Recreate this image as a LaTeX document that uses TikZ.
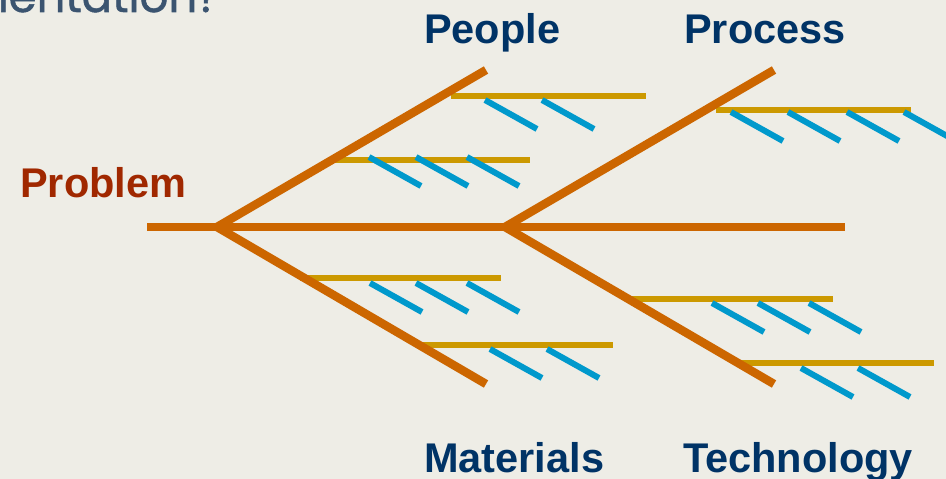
\documentclass[tikz,border=0pt]{standalone}
\usepackage{fontspec}
\setmainfont{Liberation Sans}
\newfontfamily\titlefont[FakeBold=1.2]{Poppins}
\definecolor{bg}{HTML}{EEEDE6}
\definecolor{bone}{HTML}{CC6600}
\definecolor{bar}{HTML}{CC9900}
\definecolor{tick}{HTML}{0099CC}
\definecolor{navy}{HTML}{003366}
\definecolor{probred}{HTML}{A02800}
\definecolor{titleblue}{HTML}{3B5470}
\tikzset{
  bonestyle/.style={draw=bone, line width=8.5pt, line cap=butt},
  barstyle/.style={draw=bar, line width=6.5pt, line cap=butt},
  tickstyle/.style={draw=tick, line width=6pt, line cap=butt},
  lbl/.style={inner sep=0pt, anchor=base west, text=navy, font=\bfseries\fontsize{41.5}{48}\selectfont},
}
\begin{document}
\begin{tikzpicture}[x=1pt,y=-1pt]
\useasboundingbox (0,0) rectangle (946,479);
\fill[bg] (0,0) rectangle (946,479);
\clip (0,0) rectangle (946,479);
% title fragment
\node[inner sep=0pt, anchor=base east, text=titleblue, font=\titlefont\fontsize{45}{50}\selectfont] (title) at (221,12) {Implementation?};
% labels
\node[lbl, text=probred] (problem) at (20,197) {Problem};
\node[lbl] (people) at (424,43) {People};
\node[lbl] (process) at (684,43) {Process};
\node[lbl] (materials) at (424,472) {Materials};
\node[lbl] (technology) at (683,472) {Technology};
% coordinates
\coordinate (tail) at (147,227);
\coordinate (head) at (845,227);
\coordinate (L) at (217,227);
\coordinate (R) at (505,227);
\coordinate (LU) at (486,70);
\coordinate (LD) at (486,384);
\coordinate (RU) at (774,70);
\coordinate (RD) at (774,384);
% bars
\draw[barstyle] (451,96) -- (646,96);
\draw[barstyle] (328,160) -- (530,160);
\draw[barstyle] (300,278) -- (501,278);
\draw[barstyle] (416,345) -- (613,345);
\draw[barstyle] (716,110) -- (911,110);
\draw[barstyle] (630,299) -- (833,299);
\draw[barstyle] (736,363) -- (934,363);
% ticks
\foreach \x/\y in {485/100,542/100, 369/157,416/157,467/157, 370/283,416/283,467/283, 490/349,547/349, 731/112,788/112,847/112,904/112, 712/303,758/303,809/303, 801/368,858/368}
  \draw[tickstyle] (\x,\y) -- ++(52,29);
% bones
\draw[bonestyle] (tail) -- (head);
\draw[bonestyle] (L) -- (LU);
\draw[bonestyle] (L) -- (LD);
\draw[bonestyle] (R) -- (RU);
\draw[bonestyle] (R) -- (RD);
\end{tikzpicture}
\end{document}
